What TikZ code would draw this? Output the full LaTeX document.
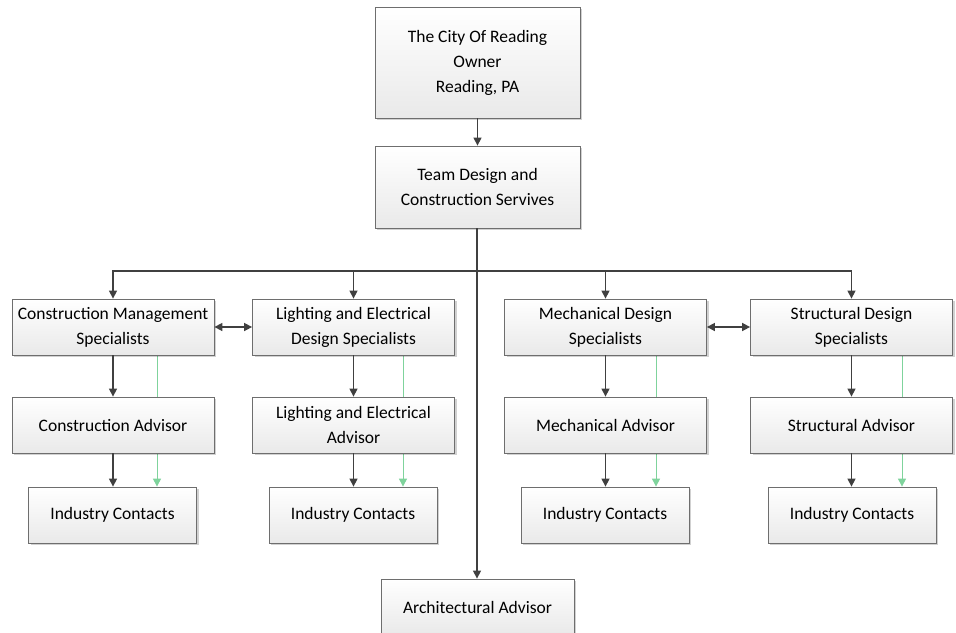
\documentclass[tikz,border=0pt]{standalone}
\usepackage{fontspec}
\setmainfont{Carlito}
\usetikzlibrary{arrows.meta,shadows,backgrounds}
\definecolor{boxline}{HTML}{6E6E6E}
\definecolor{boxbot}{HTML}{E9E9E9}
\definecolor{conn}{HTML}{404040}
\definecolor{gline}{HTML}{7FD39C}
\begin{document}
\begin{tikzpicture}[x=1pt,y=-1pt,
  box/.style={draw=boxline, line width=0.8pt, top color=white, bottom color=boxbot,
    inner sep=0pt, align=center, font=\fontsize{17.5}{25}\selectfont,
    drop shadow={shadow xshift=2pt, shadow yshift=-2pt, fill=black, opacity=0.18}},
  wbox/.style={box, minimum width=202pt, minimum height=56pt},
  ibox/.style={box, minimum width=168pt, minimum height=56pt},
  arr/.style={draw=conn, line width=1.3pt, -{Triangle[length=8pt,width=8pt]}},
  darr/.style={draw=conn, line width=1.6pt, {Triangle[length=8pt,width=8pt]}-{Triangle[length=8pt,width=8pt]}},
  garr/.style={draw=gline, line width=1pt, -{Triangle[length=8pt,width=8pt]}}]
\useasboundingbox (0,0) rectangle (956,632);

\node[box, minimum width=205pt, minimum height=111pt] (top) at (477.5,62.5) {The City Of Reading\\Owner\\Reading, PA};
\node[box, minimum width=205pt, minimum height=82pt] (team) at (477.5,187) {Team Design and\\Construction Servives};

\node[wbox] (cmS) at (113,327) {Construction Management\\Specialists};
\node[wbox] (lS) at (353.5,327) {Lighting and Electrical\\Design Specialists};
\node[wbox] (mS) at (605.5,327) {Mechanical Design\\Specialists};
\node[wbox] (sS) at (851.5,327) {Structural Design\\Specialists};

\node[wbox] (cmA) at (113,425) {Construction Advisor};
\node[wbox] (lA) at (353.5,425) {Lighting and Electrical\\Advisor};
\node[wbox] (mA) at (605.5,425) {Mechanical Advisor};
\node[wbox] (sA) at (851.5,425) {Structural Advisor};

\node[ibox] (cmI) at (112.5,515) {Industry Contacts};
\node[ibox] (lI) at (353,515) {Industry Contacts};
\node[ibox] (mI) at (605,515) {Industry Contacts};
\node[ibox] (sI) at (852,515) {Industry Contacts};

\node[box, minimum width=193pt, minimum height=56pt] (arch) at (477.5,607) {Architectural Advisor};

\coordinate (hy) at (477,271);

\begin{scope}[on background layer]
\draw[garr] ([xshift=44pt]cmS.south) -- ([xshift=44pt]cmS.south |- cmI.north);
\draw[garr] ([xshift=49.5pt]lS.south) -- ([xshift=49.5pt]lS.south |- lI.north);
\draw[garr] ([xshift=50.5pt]mS.south) -- ([xshift=50.5pt]mS.south |- mI.north);
\draw[garr] ([xshift=50.5pt]sS.south) -- ([xshift=50.5pt]sS.south |- sI.north);
\end{scope}

\draw[arr] (top) -- (team);
\draw[arr] (team.south -| hy) -- (arch.north -| hy);
\draw[arr] (hy) -| (cmS.north);
\draw[arr] (hy) -| (lS.north);
\draw[arr] (hy) -| (mS.north);
\draw[arr] (hy) -| (sS.north);

\draw[darr] (cmS) -- (lS);
\draw[darr] (mS) -- (sS);

\draw[arr] (cmS) -- (cmA);
\draw[arr] (lS) -- (lA);
\draw[arr] (mS) -- (mA);
\draw[arr] (sS) -- (sA);
\draw[arr] (cmA.south) -- (cmA.south |- cmI.north);
\draw[arr] (lA.south) -- (lA.south |- lI.north);
\draw[arr] (mA.south) -- (mA.south |- mI.north);
\draw[arr] (sA.south) -- (sA.south |- sI.north);
\end{tikzpicture}
\end{document}
